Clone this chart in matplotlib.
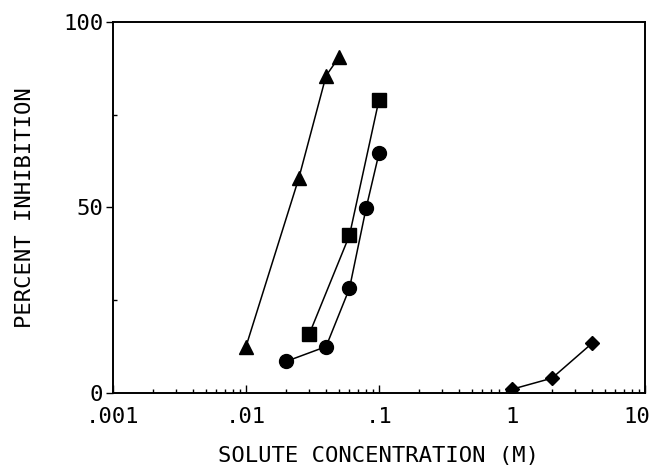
import numpy as np
import matplotlib.pyplot as plt
import matplotlib.transforms as mtransforms
from matplotlib.ticker import FixedLocator, LogLocator, NullFormatter

# data
tri_x = [0.01, 0.025, 0.04, 0.05]
tri_y = [12.5, 58, 85.5, 90.5]
sq_x = [0.03, 0.06, 0.1]
sq_y = [16, 42.5, 79]
circ_x = [0.02, 0.04, 0.06, 0.08, 0.1]
circ_y = [8.5, 12.5, 28.2, 49.8, 64.6]
dia_x = [1, 2, 4]
dia_y = [1, 4, 13.4]

x_ticks = [0.001, 0.01, 0.1, 1, 10]
x_labels = ['.001', '.01', '.1', '1', '10']
y_ticks = [0, 50, 100]

plt.rcParams['font.family'] = ['DejaVu Sans Mono']

fig = plt.figure(figsize=(6.55, 4.67), dpi=100)
ax = fig.add_axes([0.1725, 0.1585, 0.8122, 0.7944])

ax.plot(tri_x, tri_y, '-^', color='black', lw=1.1, ms=10.5)
ax.plot(sq_x, sq_y, '-s', color='black', lw=1.1, ms=10)
ax.plot(circ_x, circ_y, '-o', color='black', lw=1.1, ms=10)
ax.plot(dia_x, dia_y, '-D', color='black', lw=1.1, ms=7)

ax.set_xscale('log')
ax.set_xlim(0.001, 10)
ax.set_ylim(0, 100)
ax.set_xticks(x_ticks)
ax.set_xticklabels(x_labels)
ax.xaxis.set_minor_locator(LogLocator(base=10, subs=np.arange(2, 10)))
ax.xaxis.set_minor_formatter(NullFormatter())
ax.set_yticks(y_ticks)
ax.yaxis.set_minor_locator(FixedLocator([25, 75]))

ax.tick_params(axis='x', which='major', direction='in', length=6, width=1, labelsize=16, pad=10)
ax.tick_params(axis='x', which='minor', direction='in', length=3, width=1)
ax.tick_params(axis='y', which='major', direction='out', length=5, width=1, labelsize=16, pad=2)
ax.tick_params(axis='y', which='minor', direction='in', length=3, width=1)

# last label sits at the figure edge, nudge it left a little
last = ax.get_xticklabels()[-1]
last.set_transform(last.get_transform() + mtransforms.ScaledTranslation(-6/72, 0, fig.dpi_scale_trans))

for s in ax.spines.values():
    s.set_linewidth(1.4)

ax.set_xlabel('SOLUTE CONCENTRATION (M)', fontsize=16, labelpad=14)
ax.set_ylabel('PERCENT INHIBITION', fontsize=16, labelpad=20)

fig.savefig('out.png', dpi=100)
